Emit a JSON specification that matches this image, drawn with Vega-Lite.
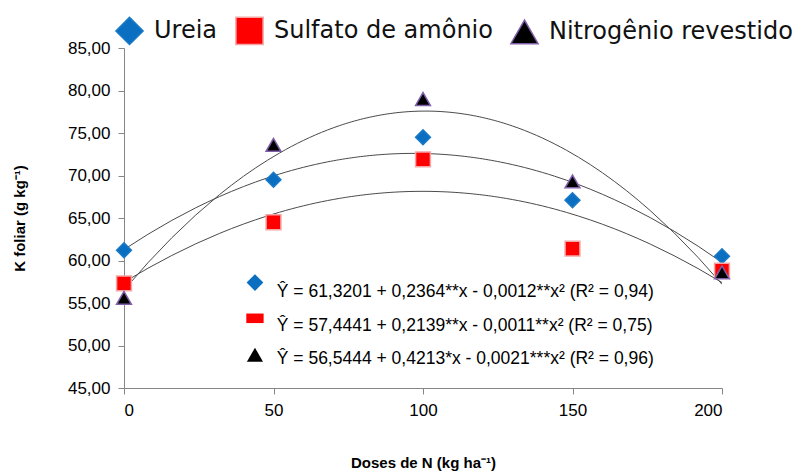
{
  "$schema": "https://vega.github.io/schema/vega-lite/v6.json",
  "width": 598,
  "height": 340,
  "autosize": {"type": "none"},
  "padding": {"left": 124, "top": 48, "right": 81, "bottom": 87},
  "background": "white",
  "config": {"view": {"stroke": null}, "font": "Liberation Sans"},
  "datasets": {
    "pts": [
      {"x": 0, "y": 61.2, "series": "Ureia"},
      {"x": 50, "y": 69.5, "series": "Ureia"},
      {"x": 100, "y": 74.5, "series": "Ureia"},
      {"x": 150, "y": 67.1, "series": "Ureia"},
      {"x": 200, "y": 60.5, "series": "Ureia"},
      {"x": 0, "y": 57.3, "series": "Sulfato de amônio"},
      {"x": 50, "y": 64.5, "series": "Sulfato de amônio"},
      {"x": 100, "y": 71.9, "series": "Sulfato de amônio"},
      {"x": 150, "y": 61.4, "series": "Sulfato de amônio"},
      {"x": 200, "y": 58.8, "series": "Sulfato de amônio"},
      {"x": 0, "y": 55.6, "series": "Nitrogênio revestido"},
      {"x": 50, "y": 73.6, "series": "Nitrogênio revestido"},
      {"x": 100, "y": 79.0, "series": "Nitrogênio revestido"},
      {"x": 150, "y": 69.3, "series": "Nitrogênio revestido"},
      {"x": 200, "y": 58.6, "series": "Nitrogênio revestido"}
    ],
    "eq": [
      {"x": 43.8, "y": 57.4, "tx": 51.1, "ty": 56.35, "series": "Ureia", "label": "Ŷ = 61,3201 + 0,2364**x - 0,0012**x² (R² = 0,94)"},
      {"x": 43.8, "y": 53.2, "tx": 51.1, "ty": 52.24, "series": "Sulfato de amônio", "label": "Ŷ = 57,4441 + 0,2139**x - 0,0011**x² (R² = 0,75)"},
      {"x": 43.8, "y": 48.9, "tx": 51.1, "ty": 48.4, "series": "Nitrogênio revestido", "label": "Ŷ = 56,5444 + 0,4213*x - 0,0021***x² (R² = 0,96)"}
    ]
  },
  "layer": [
    {
      "data": {"name": "pts"},
      "transform": [
        {"regression": "y", "on": "x", "groupby": ["series"], "method": "poly", "order": 2, "extent": [0, 200]}
      ],
      "mark": {"type": "line", "color": "#4a4a4a", "strokeWidth": 1, "clip": true},
      "encoding": {
        "x": {
          "field": "x", "type": "quantitative",
          "scale": {"domain": [0, 200], "nice": false},
          "axis": {
            "values": [0, 50, 100, 150, 200],
            "grid": false,
            "domainColor": "#868686",
            "tickColor": "#868686",
            "tickSize": 6,
            "labelPadding": 8,
            "labelFontSize": 17,
            "labelColor": "#000",
            "title": "Doses de N (kg ha⁻¹)",
            "titleFontSize": 15,
            "titleFontWeight": "bold",
            "titleColor": "#000",
            "titlePadding": 37
          }
        },
        "y": {
          "field": "y", "type": "quantitative",
          "scale": {"domain": [45, 85], "nice": false, "zero": false},
          "axis": {
            "values": [45, 50, 55, 60, 65, 70, 75, 80, 85],
            "labelExpr": "replace(format(datum.value, '.2f'), '.', ',')",
            "grid": false,
            "domainColor": "#868686",
            "tickColor": "#868686",
            "tickSize": 6,
            "labelPadding": 8,
            "labelFontSize": 17,
            "labelColor": "#000",
            "title": "K foliar (g kg⁻¹)",
            "titleFontSize": 15,
            "titleFontWeight": "bold",
            "titleColor": "#000",
            "titlePadding": 40
          }
        },
        "detail": {"field": "series"}
      }
    },
    {
      "data": {"name": "pts"},
      "mark": {"type": "point", "filled": true, "size": 220, "opacity": 1, "strokeWidth": 1.5},
      "encoding": {
        "x": {"field": "x", "type": "quantitative"},
        "y": {"field": "y", "type": "quantitative"},
        "color": {
          "field": "series", "type": "nominal",
          "scale": {"domain": ["Ureia", "Sulfato de amônio", "Nitrogênio revestido"], "range": ["#0B6FC1", "#FF0000", "#000000"]},
          "legend": {
            "orient": "none",
            "direction": "horizontal",
            "legendX": -9,
            "legendY": -32,
            "title": null,
            "symbolSize": 740,
            "labelFont": "DejaVu Sans",
            "labelFontSize": 24,
            "labelColor": "#111",
            "labelLimit": 0,
            "columnPadding": 14,
            "labelOffset": 10,
            "encode": {
              "symbols": {
                "update": {
                  "stroke": {"signal": "datum.value === 'Sulfato de amônio' ? '#000' : 'transparent'"},
                  "strokeWidth": {"value": 2}
                }
              }
            }
          }
        },
        "shape": {
          "field": "series", "type": "nominal",
          "scale": {"domain": ["Ureia", "Sulfato de amônio", "Nitrogênio revestido"], "range": ["diamond", "square", "triangle-up"]}
        },
        "stroke": {
          "field": "series", "type": "nominal",
          "scale": {"domain": ["Ureia", "Sulfato de amônio", "Nitrogênio revestido"], "range": ["#1A7AC8", "#F3A6A6", "#7F60A8"]},
          "legend": null
        }
      }
    },
    {
      "data": {"name": "eq"},
      "transform": [{"filter": "datum.series === 'Ureia'"}],
      "mark": {"type": "point", "filled": true, "shape": "diamond", "size": 280, "color": "#0B6FC1", "opacity": 1},
      "encoding": {
        "x": {"field": "x", "type": "quantitative"},
        "y": {"field": "y", "type": "quantitative"}
      }
    },
    {
      "data": {"name": "eq"},
      "transform": [{"filter": "datum.series === 'Sulfato de amônio'"}],
      "mark": {"type": "point", "filled": true, "shape": "M-1,-0.55L1,-0.55L1,0.55L-1,0.55Z", "size": 300, "color": "#FF0000", "opacity": 1},
      "encoding": {
        "x": {"field": "x", "type": "quantitative"},
        "y": {"field": "y", "type": "quantitative"}
      }
    },
    {
      "data": {"name": "eq"},
      "transform": [{"filter": "datum.series === 'Nitrogênio revestido'"}],
      "mark": {"type": "point", "filled": true, "shape": "triangle-up", "size": 260, "color": "#000000", "opacity": 1},
      "encoding": {
        "x": {"field": "x", "type": "quantitative"},
        "y": {"field": "y", "type": "quantitative"}
      }
    },
    {
      "data": {"name": "eq"},
      "mark": {"type": "text", "align": "left", "baseline": "middle", "fontSize": 17.5, "font": "Liberation Sans", "color": "#000"},
      "encoding": {
        "x": {"field": "tx", "type": "quantitative"},
        "y": {"field": "ty", "type": "quantitative"},
        "text": {"field": "label"}
      }
    }
  ]
}
